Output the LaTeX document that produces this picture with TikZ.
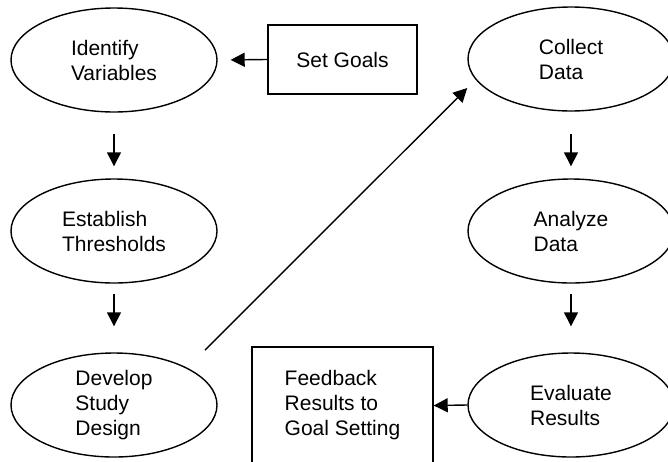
\documentclass[tikz,border=0pt]{standalone}
\usepackage{fontspec}
\setmainfont{Liberation Sans}
\usetikzlibrary{shapes.geometric,arrows.meta,calc}
\begin{document}
\begin{tikzpicture}[x=1pt, y=-1pt,
        stage/.style={draw, ellipse, line width=1.4pt, minimum width=206pt, minimum height=104pt, inner sep=0pt, align=left, font=\fontsize{21}{25}\selectfont},
        task/.style={draw, rectangle, line width=1.4pt, inner sep=0pt, align=left, font=\fontsize{21}{25}\selectfont},
        flow/.style={line width=1.4pt, -{Triangle[length=14pt,width=14pt]}}]
        \useasboundingbox (0,0) rectangle (668,461);
        \node[stage] (ident) at (114,60) {Identify\\Variables};
        \node[stage] (thresh) at (114,231) {Establish\\Thresholds};
        \node[stage] (design) at (114,405) {Develop\\Study\\Design};
        \node[task, minimum width=149pt, minimum height=69pt] (goals) at (342.5,59.5) {Set Goals};
        \node[stage] (collect) at (571,59) {Collect\\Data};
        \node[stage] (analyze) at (571,231) {Analyze\\Data};
        \node[stage] (eval) at (571,405) {Evaluate\\Results};
        \node[task, minimum width=181pt, minimum height=117pt] (feedback) at (342.5,405.5) {Feedback\\Results to\\Goal Setting};
        \draw[flow, shorten >=13pt] (goals.west) -- (ident.east);
        \draw[flow, shorten <=21pt, shorten >=12pt] (ident) -- (thresh);
        \draw[flow, shorten <=10pt, shorten >=26pt] (thresh) -- (design);
        \draw[flow, shorten <=25pt] (design.north east) -- ($(collect.west)+(0,29)$);
        \draw[flow, shorten <=22pt, shorten >=12pt] (collect) -- (analyze);
        \draw[flow, shorten <=10pt, shorten >=26pt] (analyze) -- (eval);
        \draw[flow] (eval.west) -- (feedback.east);
    \end{tikzpicture}
\end{document}
